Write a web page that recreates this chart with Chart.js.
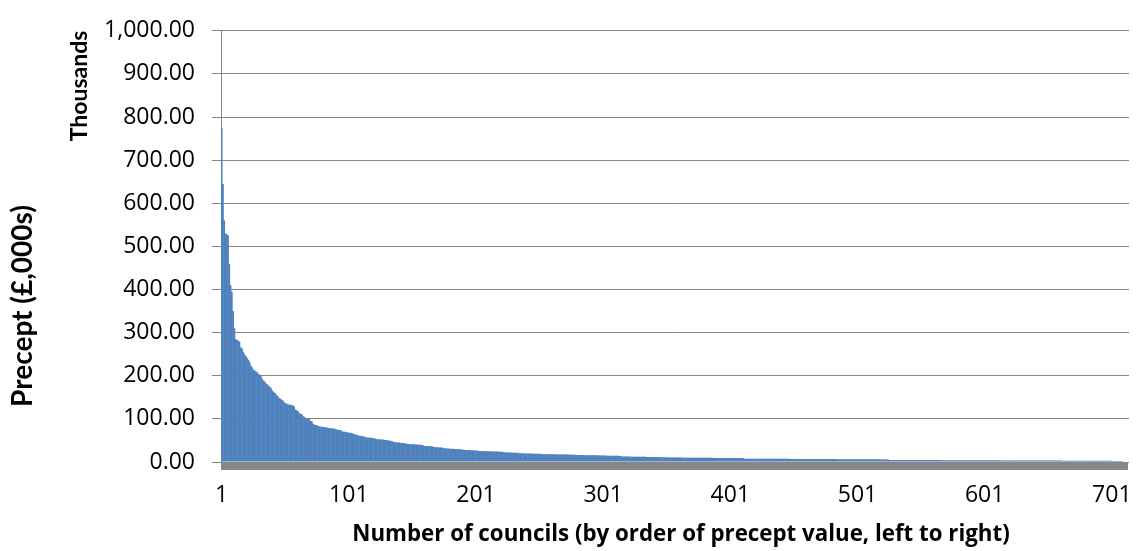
<!DOCTYPE html>
<html>
<head>
<meta charset="utf-8">
<script src="https://cdn.jsdelivr.net/npm/chart.js@4.4.1/dist/chart.umd.min.js"></script>
<style>
  html, body { margin: 0; padding: 0; background: #ffffff; }
  #wrap { width: 1138px; height: 551px; position: relative; }
</style>
</head>
<body>
<div id="wrap"><canvas id="chart" width="1138" height="551"></canvas></div>
<script>
// Parish/town council precepts, £ thousands, sorted largest to smallest.
const topPrecepts = [
  774,645,560,530,528,526,460,410,395,350,310,285,283,281,279,266,263,255,250,246,
  241,237,232,224,220,214,212,210,208,204,202,199,192,189,186,182,180,177,174,171,
  165,162,160,156,153,149,147,145,143,139,137,135,134,133,133,132,131,129,122,120,
  118,113,112,111,106,105,102,101,100,99,95,94,88,87,86,85,83,83,82,82,
  81,81,80,80,79,78,78,78,77,77,76,75,74,74,73,71,70,70,69,69,
  68,68,67,66,65,64,63,62,61,61,60,60,59,58,57,57,56,56,56,55,
  55,54,53,53,53,52,52,52,51,51,51,50,49,49,48,47,46,46,45,45,
  45,44,44,44,43,43,42
];
const midPrecepts = [
  41.8,41.5,41.3,41,41,40.8,40.6,40.4,40.2,40,39.8,39.5,
  37.5,37.3,37,37,36.8,36.6,36.4,36.2,
  34.5,34.3,34,34,33.8,33.6,33.4,33.2,
  31.8,31.6,31.4,31.2,31,31,30.8,30.6,30.4,30.2,30,29.8,29.6,29.4,
  28.5,28.3,28.1,28,27.9,27.7,27.5,27.4,27.2,27,26.9,26.7,26.5,
  25.6,25.5,25.4,25.3,25.2,25.1,25,24.9,24.8,24.7,24.6,24.5,24.4,24.3,24.2,24.1,24,23.9,23.8,23.7,
  22.5,22.4,22.2,22.1,22,21.9,21.8,21.6,21.5,21.4,21.3,21.2,
  20.4,20.3,20.2,20.1,20,19.9,19.8,19.7,19.6,19.5,19.4,19.3,19.2,19.1,19,18.9,18.9,18.8,18.8,
  18.2,18.1,18.1,18,18,17.9,17.9,17.8,17.8,17.7,17.7,17.6,17.6,17.5,17.5,17.4,17.4,17.3,17.3,17.2,17.2,17.1,17.1,17,17,16.9,
  16.3,16.2,16.2,16.1,16.1,16,16,15.9,15.9,15.8,15.8,15.7,15.7,15.6,15.6,15.5,15.5,15.4,
  15,15,14.9,14.9,14.8,14.8,14.7,14.7,14.6,14.6,14.5,14.5,14.4,14.4,14.3,14.3,14.2,14.2,
  12.8,12.7,12.7,12.6,12.6,12.5,12.5,12.4,12.4,12.3,12.3,12.2,12.2,12.1,12.1,12,12,11.9,11.9,11.8,
  11.8,11.7,11.7,11.6,11.6,11.5,11.5,11.4,11.4,11.3,11.3,11.2,11.2,11.1,11.1,11
];
const smallPrecepts = [
  10.4,10.4,10.4,10.4,10.3,10.3,10.3,10.3,10.2,10.2,10.2,10.2,10.1,10.1,10.1,10.1,10,10,10,10,
  9.9,9.9,9.9,9.9,9.8,9.8,9.8,9.8,9.7,9.7,9.7,9.7,9.6,9.6,9.6,9.6,9.5,9.5,9.5,9.5,
  9.4,9.4,9.4,9.4,9.3,9.3,9.3,9.3,9.2,9.2,9.2,9.2,9.1,9.1,9.1,9.1,9,9,9,9,
  7.8,7.8,7.8,7.8,7.8,7.8,7.7,7.7,7.7,7.7,7.7,7.7,7.6,7.6,7.6,7.6,7.6,7.6,7.5,7.5,
  7.5,7.5,7.5,7.5,7.4,7.4,7.4,7.4,7.4,7.4,7.3,7.3,7.3,7.3,7.3,7.3,7.2,7.2,7.2,7.2,
  7.2,7.2,7.1,7.1,7.1,7.1,7.1,7.1,7,7,7,7,7,7,6.9,6.9,6.9,6.9,6.9,6.9,
  6.8,6.8,6.8,6.8,6.8,6.8,6.7,6.7,6.7,6.7,6.7,6.7,6.6,6.6,6.6,6.6,6.6,6.6,6.5,6.5,
  6.5,6.5,6.5,6.5,6.4,6.4,6.4,6.4,6.4,6.4,6.3,6.3,6.3,6.3,6.3,6.3,6.2,6.2,6.2,6.2,
  6.2,6.2,6.1,6.1,6.1,6.1,6.1,6.1,6,6,6,6,6,6
];
const tailPrecepts = [
  4.8,4.8,4.8,4.8,4.8,4.8,4.8,4.8,4.7,4.7,4.7,4.7,4.7,4.7,4.7,4.7,4.6,4.6,4.6,4.6,
  4.6,4.6,4.6,4.6,4.5,4.5,4.5,4.5,4.5,4.5,4.5,4.5,4.4,4.4,4.4,4.4,4.4,4.4,4.4,4.4,
  4.3,4.3,4.3,4.3,4.3,4.3,4.3,4.3,4.2,4.2,4.2,4.2,4.2,4.2,4.2,4.2,4.1,4.1,4.1,4.1,
  4.1,4.1,4.1,4.1,4,4,4,4,4,4,4,4,3.9,3.9,3.9,3.9,3.9,3.9,3.9,3.9,
  3.8,3.8,3.8,3.8,3.8,3.8,3.8,3.8,3.7,3.7,3.7,3.7,3.7,3.7,3.7,3.7,3.6,3.6,3.6,3.6,
  3.6,3.6,3.6,3.6,3.5,3.5,3.5,3.5,3.5,3.5,3.5,3.5,3.4,3.4,3.4,3.4,3.4,3.4,3.4,3.4,
  3.3,3.3,3.3,3.3,3.3,3.3,3.3,3.3,3.2,3.2,3.2,3.2,3.2,3.2,3.2,3.2,3.1,3.1,3.1,3.1,
  3.1,3.1,3.1,3.1,3,3,3,3,3,3,3,3,2.9,2.9,2.9,2.9,2.9,2.9,2.9,2.9,
  2.8,2.8,2.8,2.8,2.8,2.8,2.8,2.8,2.7,2.7,2.7,2.7,2.7,2.7,2.7,2.7,2.6,2.6,2.6,2.6,
  2.6,2.6,2.6,2.6,
  0,0,0,0,0
];

const precepts = [...topPrecepts, ...midPrecepts, ...smallPrecepts, ...tailPrecepts];
// Council rank along the category axis: 1 = largest precept.
const councilRanks = precepts.map((_, i) => String(i + 1));

const yTickMin = 0;
const yTickMax = 1000;
const yTickStep = 100;
const xLabelEvery = 100;

const yAxisTitle = 'Precept (£,000s)';
const yUnitsTitle = 'Thousands';
const xAxisTitle = 'Number of councils (by order of precept value, left to right)';

const TICK_FONT = '"Open Sans", "Liberation Sans", sans-serif';
const TITLE_FONT = 'Lato, "Open Sans", sans-serif';
const BAR_BLUE = '#4F81BD';
const GRID_GREY = '#868686';
const FLOOR_GREY = '#878787';

const numFmt = new Intl.NumberFormat('en-GB', { minimumFractionDigits: 2, maximumFractionDigits: 2 });

// Grey floor strip under the bars plus the three axis titles.
const decorations = {
  id: 'decorations',
  afterDatasetsDraw(chart) {
    const { ctx, chartArea } = chart;
    ctx.save();
    ctx.fillStyle = FLOOR_GREY;
    ctx.fillRect(chartArea.left, chartArea.bottom, chartArea.right - chartArea.left - 1, 8);
    ctx.restore();
  },
  afterDraw(chart) {
    const { ctx } = chart;
    ctx.save();
    ctx.fillStyle = '#000000';
    ctx.textAlign = 'center';
    ctx.textBaseline = 'middle';

    ctx.font = 'bold 28px ' + TITLE_FONT;
    ctx.save();
    ctx.translate(23, 306);
    ctx.rotate(-Math.PI / 2);
    ctx.fillText(yAxisTitle, 0, 0);
    ctx.restore();

    ctx.font = 'bold 23px ' + TITLE_FONT;
    ctx.save();
    ctx.translate(80, 86);
    ctx.rotate(-Math.PI / 2);
    ctx.fillText(yUnitsTitle, 0, 0);
    ctx.restore();

    ctx.font = 'bold 22.3px ' + TICK_FONT;
    ctx.fillText(xAxisTitle, 681, 535);
    ctx.restore();
  }
};

new Chart(document.getElementById('chart'), {
  type: 'bar',
  data: {
    labels: councilRanks,
    datasets: [{
      data: precepts,
      backgroundColor: BAR_BLUE,
      borderWidth: 0,
      // slightly wider than the slot so neighbouring bars overlap and leave no seams
      barPercentage: 1.4,
      categoryPercentage: 1
    }]
  },
  options: {
    responsive: false,
    animation: false,
    devicePixelRatio: 1,
    layout: { padding: { left: 0, right: 9, top: 18, bottom: 0 } },
    plugins: {
      legend: { display: false },
      tooltip: { enabled: false },
      title: { display: false }
    },
    scales: {
      x: {
        type: 'category',
        grid: { display: false, drawTicks: true, tickLength: 12 },
        border: { display: false },
        ticks: {
          autoSkip: false,
          maxRotation: 0,
          minRotation: 0,
          padding: 8,
          color: '#000000',
          font: { family: TICK_FONT, size: 23 },
          callback(value, index) {
            return index % xLabelEvery === 0 ? this.getLabelForValue(value) : '';
          }
        },
        afterFit(scale) { scale.height = 89; }
      },
      y: {
        min: yTickMin,
        max: yTickMax,
        grid: { color: GRID_GREY, lineWidth: 1, tickLength: 9, drawTicks: true },
        border: { display: true, color: GRID_GREY, width: 1 },
        ticks: {
          stepSize: yTickStep,
          padding: 17,
          color: '#000000',
          font: { family: TICK_FONT, size: 23 },
          callback(value) { return numFmt.format(value); }
        },
        afterFit(scale) { scale.width = 221; }
      }
    }
  },
  plugins: [decorations]
});
</script>
</body>
</html>
